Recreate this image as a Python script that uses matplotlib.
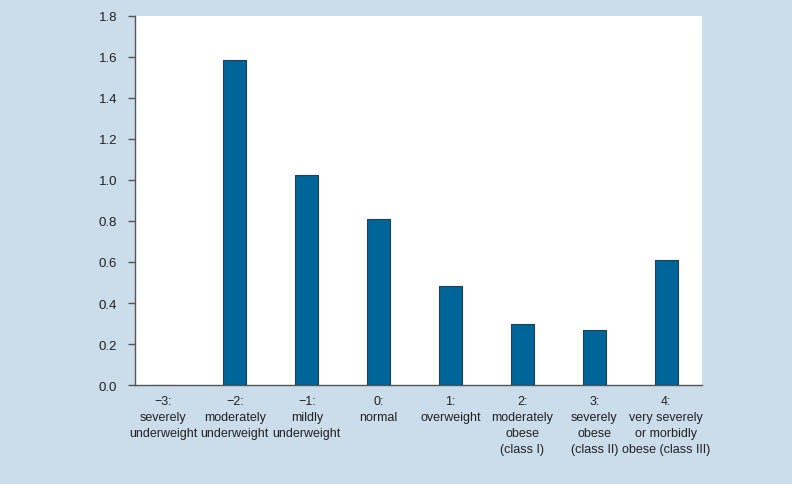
import matplotlib
matplotlib.use("Agg")
import matplotlib.pyplot as plt

categories = ["\u22123:\nseverely\nunderweight", "\u22122:\nmoderately\nunderweight",
              "\u22121:\nmildly\nunderweight", "0:\nnormal", "1:\noverweight",
              "2:\nmoderately\nobese\n(class I)", "3:\nseverely\nobese\n(class II)",
              "4:\nvery severely\nor morbidly\nobese (class III)"]
values = [0.0, 1.585, 1.024, 0.81, 0.483, 0.298, 0.268, 0.61]
yticks = [0.0, 0.2, 0.4, 0.6, 0.8, 1.0, 1.2, 1.4, 1.6, 1.8]

bg = "#cbdcea"
plt.rcParams['font.family'] = ['Liberation Sans', 'DejaVu Sans']
fig = plt.figure(figsize=(7.92, 4.85), dpi=100, facecolor=bg)
ax = fig.add_axes([0.1705, 0.2041, 0.7159, 0.7609])
ax.set_facecolor("white")
x = list(range(len(categories)))
ax.bar(x, values, width=0.32, color="#006699", edgecolor="#1f3f55", linewidth=0.8, zorder=3)
ax.set_xlim(-0.39, 7.5)
ax.set_ylim(0, 1.8)
ax.set_yticks(yticks)
ax.set_yticklabels([f"{v:.1f}" for v in yticks], fontsize=9.5, color="#222222")
ax.set_xticks(x)
ax.set_xticklabels(categories, fontsize=9, color="#222222", linespacing=1.45)
ax.tick_params(axis='x', length=0, pad=7)
ax.tick_params(axis='y', length=5, width=1, color="#555555", pad=8)
for s in ["top", "right"]:
    ax.spines[s].set_visible(False)
for s in ["left", "bottom"]:
    ax.spines[s].set_color("#555555")
    ax.spines[s].set_linewidth(1)
fig.savefig("out.png", dpi=100, facecolor=bg)
